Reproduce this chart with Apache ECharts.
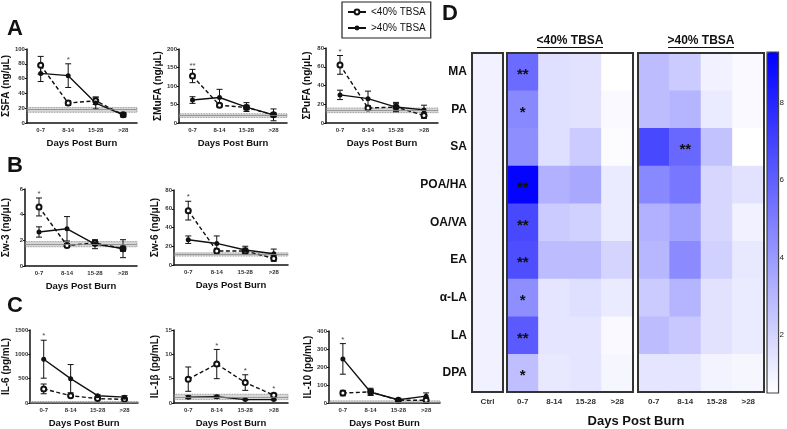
<!DOCTYPE html>
<html>
<head>
<meta charset="utf-8">
<script src="https://cdn.jsdelivr.net/npm/echarts@6/dist/echarts.min.js"></script>
<style>
  html, body { margin: 0; padding: 0; background: #fff; }
  #chart { width: 787px; height: 429px; }
</style>
</head>
<body>
<div id="chart"></div>
<script>
const days = ['0-7', '8-14', '15-28', '>28']

// A: fatty acid totals (ng/uL), mean and error per time bin
const sfaLow = [78, 27, 30, 11]
const sfaLowErr = [12, 3, 5, 2]
const sfaHigh = [67, 64, 27, 11]
const sfaHighErr = [11, 16, 8, 3]
const sfaCtrl = [14.5, 18, 21]
const sfaSig = ['', '*', '', '']

const mufaLow = [127, 48, 42, 22]
const mufaLowErr = [18, 5, 6, 5]
const mufaHigh = [62, 69, 43, 22]
const mufaHighErr = [9, 22, 12, 16]
const mufaCtrl = [15, 20, 25]
const mufaSig = ['**', '', '', '']

const pufaLow = [62, 16, 17, 8]
const pufaLowErr = [10, 2, 4, 3]
const pufaHigh = [30, 26, 17, 14]
const pufaHighErr = [5, 8, 5, 5]
const pufaCtrl = [11, 13.5, 16]
const pufaSig = ['*', '', '', '']

// B: omega-3 / omega-6
const w3Low = [4.6, 1.6, 1.8, 1.35]
const w3LowErr = [0.7, 0.15, 0.2, 0.2]
const w3High = [2.65, 2.9, 1.7, 1.35]
const w3HighErr = [0.4, 0.95, 0.35, 0.7]
const w3Ctrl = [1.5, 1.7, 1.9]
const w3Sig = ['*', '', '', '']

const w6Low = [58, 15, 15, 7]
const w6LowErr = [10, 2, 3, 3]
const w6High = [27, 23, 16, 12]
const w6HighErr = [4, 8, 4, 5]
const w6Ctrl = [9.5, 11.5, 13]
const w6Sig = ['*', '', '', '']

// C: cytokines (pg/mL)
const il6Low = [290, 150, 90, 75]
const il6LowErr = [100, 25, 15, 20]
const il6High = [900, 500, 150, 120]
const il6HighErr = [390, 290, 20, 30]
const il6Ctrl = [0, 15, 30]
const il6Sig = ['*', '', '', '']

const il1bLow = [4.9, 8, 4.2, 1.6]
const il1bLowErr = [2.5, 3, 1.6, 0.4]
const il1bHigh = [1.2, 1.3, 0.7, 0.7]
const il1bHighErr = [0.3, 0.3, 0.1, 0.1]
const il1bCtrl = [0.7, 1.2, 1.8]
const il1bSig = ['', '*', '*', '*']

const il10Low = [55, 62, 15, 15]
const il10LowErr = [15, 20, 3, 15]
const il10High = [245, 60, 18, 38]
const il10HighErr = [85, 15, 3, 18]
const il10Ctrl = [0, 6, 12]
const il10Sig = ['*', '', '', '']

// D: fold change heatmap
const acids = ['MA', 'PA', 'SA', 'POA/HA', 'OA/VA', 'EA', 'α-LA', 'LA', 'DPA']
const ctrlFold = [1, 1, 1, 1, 1, 1, 1, 1, 1]
const lt40Day0 = [5.6, 4.6, 4.4, 9.2, 6.8, 6.6, 4.4, 6.2, 2.7]
const lt40Day8 = [1.6, 1.6, 1.6, 3.2, 2.3, 2.8, 1.4, 1.4, 1.3]
const lt40Day15 = [1.5, 1.5, 2.3, 3.5, 2.1, 2.8, 1.6, 1.4, 1.4]
const lt40Day28 = [0.5, 0.7, 0.6, 1.2, 1.2, 2.0, 1.2, 0.7, 0.8]
const gt40Day0 = [2.8, 2.8, 6.8, 4.6, 3.2, 3.0, 2.3, 2.8, 1.4]
const gt40Day8 = [2.3, 3.1, 5.7, 5.2, 3.7, 4.5, 3.1, 2.4, 1.4]
const gt40Day15 = [1.0, 1.2, 2.6, 1.9, 1.9, 2.1, 1.5, 1.5, 0.9]
const gt40Day28 = [0.7, 0.7, 0.5, 1.5, 1.0, 1.3, 1.2, 1.2, 0.8]
const lt40Day0Sig = ['**', '*', '', '**', '**', '**', '*', '**', '*']
const gt40Day8Sig = ['', '', '**', '', '', '', '', '', '']
const colorTicks = [2, 4, 6, 8]

const ff = '"Liberation Sans", Arial, sans-serif'
const ink = '#111'

const panels = [
  { name: 'ΣSFA (ng/μL)', low: sfaLow, lowErr: sfaLowErr, high: sfaHigh, highErr: sfaHighErr, ctrl: sfaCtrl, sig: sfaSig, max: 100, step: 20, rect: [25, 49, 112, 74] },
  { name: 'ΣMuFA (ng/μL)', low: mufaLow, lowErr: mufaLowErr, high: mufaHigh, highErr: mufaHighErr, ctrl: mufaCtrl, sig: mufaSig, max: 200, step: 50, rect: [179, 49, 108, 74] },
  { name: 'ΣPuFA (ng/μL)', low: pufaLow, lowErr: pufaLowErr, high: pufaHigh, highErr: pufaHighErr, ctrl: pufaCtrl, sig: pufaSig, max: 80, step: 20, rect: [326, 48, 112, 75] },
  { name: 'Σw-3 (ng/μL)', low: w3Low, lowErr: w3LowErr, high: w3High, highErr: w3HighErr, ctrl: w3Ctrl, sig: w3Sig, max: 6, step: 2, rect: [23, 189, 114, 77] },
  { name: 'Σw-6 (ng/μL)', low: w6Low, lowErr: w6LowErr, high: w6High, highErr: w6HighErr, ctrl: w6Ctrl, sig: w6Sig, max: 80, step: 20, rect: [174, 190, 114, 75] },
  { name: 'IL-6 (pg/mL)', low: il6Low, lowErr: il6LowErr, high: il6High, highErr: il6HighErr, ctrl: il6Ctrl, sig: il6Sig, max: 1500, step: 500, rect: [29, 330, 109, 74] },
  { name: 'IL-1β (pg/mL)', low: il1bLow, lowErr: il1bLowErr, high: il1bHigh, highErr: il1bHighErr, ctrl: il1bCtrl, sig: il1bSig, max: 15, step: 5, rect: [174, 330, 114, 75] },
  { name: 'IL-10 (pg/mL)', low: il10Low, lowErr: il10LowErr, high: il10High, highErr: il10HighErr, ctrl: il10Ctrl, sig: il10Sig, max: 400, step: 100, rect: [329, 331, 111, 73] },
]

function errorBars(vals, errs, i) {
  return {
    type: 'custom',
    name: 'err' + i,
    xAxisIndex: i,
    yAxisIndex: i,
    z: 3,
    silent: true,
    encode: { x: 0, y: [1, 2] },
    data: vals.map((v, k) => [k, v - errs[k], v + errs[k]]),
    renderItem: (params, api) => {
      const lo = api.coord([api.value(0), api.value(1)])
      const hi = api.coord([api.value(0), api.value(2)])
      const style = { stroke: ink, lineWidth: 1 }
      return {
        type: 'group',
        children: [
          { type: 'line', shape: { x1: lo[0], y1: lo[1], x2: hi[0], y2: hi[1] }, style },
          { type: 'line', shape: { x1: lo[0] - 3, y1: lo[1], x2: lo[0] + 3, y2: lo[1] }, style },
          { type: 'line', shape: { x1: hi[0] - 3, y1: hi[1], x2: hi[0] + 3, y2: hi[1] }, style },
        ],
      }
    },
  }
}

const grid = []
const xAxis = []
const yAxis = []
const series = []

panels.forEach((p, i) => {
  grid.push({ left: p.rect[0], top: p.rect[1], width: p.rect[2], height: p.rect[3] })
  xAxis.push({
    gridIndex: i,
    type: 'category',
    data: days,
    name: 'Days Post Burn',
    nameLocation: 'middle',
    nameGap: 15,
    nameTextStyle: { fontFamily: ff, fontSize: 9.5, fontWeight: 'bold', color: ink },
    axisLine: { lineStyle: { color: ink, width: 1.5 } },
    axisTick: { alignWithLabel: true, length: 2, lineStyle: { color: ink } },
    axisLabel: { fontFamily: ff, fontSize: 6, fontWeight: 'bold', color: '#333', margin: 4 },
  })
  yAxis.push({
    gridIndex: i,
    type: 'value',
    min: 0,
    max: p.max,
    interval: p.step,
    name: p.name,
    nameLocation: 'middle',
    nameGap: 14,
    nameTextStyle: { fontFamily: ff, fontSize: 10, fontWeight: 'bold', color: ink },
    axisLine: { show: true, lineStyle: { color: ink, width: 1.5 } },
    axisTick: { show: true, length: 2, lineStyle: { color: ink } },
    axisLabel: { fontFamily: ff, fontSize: 6, fontWeight: 'bold', color: '#333', margin: 2, formatter: (v) => String(v) },
    splitLine: { show: false },
  })
  series.push({
    type: 'line',
    name: '<40% TBSA',
    xAxisIndex: i,
    yAxisIndex: i,
    data: p.low,
    symbol: 'emptyCircle',
    symbolSize: 5,
    z: 4,
    lineStyle: { color: ink, width: 1.4, type: [4, 2.5] },
    itemStyle: { color: ink, borderWidth: 1.2 },
    markArea: {
      silent: true,
      itemStyle: { color: 'rgba(140,140,140,0.35)', borderColor: '#777', borderWidth: 0.8, borderType: 'dotted' },
      data: [[{ yAxis: p.ctrl[0] }, { yAxis: p.ctrl[2] }]],
    },
    markLine: {
      silent: true,
      symbol: 'none',
      label: { show: false },
      lineStyle: { color: '#888', width: 0.8, type: 'solid' },
      data: [{ yAxis: p.ctrl[1] }],
    },
  })
  series.push({
    type: 'line',
    name: '>40% TBSA',
    xAxisIndex: i,
    yAxisIndex: i,
    data: p.high,
    symbol: 'circle',
    symbolSize: 5,
    z: 4,
    lineStyle: { color: ink, width: 1.4 },
    itemStyle: { color: ink },
  })
  series.push(errorBars(p.low, p.lowErr, i))
  series.push(errorBars(p.high, p.highErr, i))
  series.push({
    type: 'scatter',
    name: 'sig' + i,
    xAxisIndex: i,
    yAxisIndex: i,
    symbolSize: 0,
    silent: true,
    data: p.sig
      .map((s, k) => [k, Math.max(p.low[k] + p.lowErr[k], p.high[k] + p.highErr[k]), s])
      .filter((d) => d[2]),
    label: {
      show: true,
      position: 'top',
      distance: 0,
      formatter: (d) => d.data[2],
      fontFamily: ff,
      fontSize: 8,
      color: ink,
    },
  })
})

// heatmap blocks
const heatBlocks = [
  { cols: ['Ctrl'], values: [ctrlFold], rect: [472, 53, 31, 339], labels: true },
  { cols: days, values: [lt40Day0, lt40Day8, lt40Day15, lt40Day28], sig: [lt40Day0Sig], rect: [507, 53, 126, 339] },
  { cols: days, values: [gt40Day0, gt40Day8, gt40Day15, gt40Day28], sig: [null, gt40Day8Sig], rect: [638, 53, 126, 339] },
]
const heatSeries = []
heatBlocks.forEach((b, j) => {
  const gi = grid.length
  grid.push({
    left: b.rect[0], top: b.rect[1], width: b.rect[2], height: b.rect[3],
    show: true, z: 10, borderColor: '#333', borderWidth: 2, backgroundColor: 'transparent',
  })
  xAxis.push({
    gridIndex: gi,
    type: 'category',
    data: b.cols,
    axisLine: { show: false },
    axisTick: { show: false },
    axisLabel: { fontFamily: ff, fontSize: 8, fontWeight: 'bold', color: '#333', margin: 6 },
    splitLine: { show: false },
  })
  yAxis.push({
    gridIndex: gi,
    type: 'category',
    data: acids,
    inverse: true,
    axisLine: { show: false },
    axisTick: { show: false },
    axisLabel: { show: !!b.labels, fontFamily: ff, fontSize: 12, fontWeight: 'bold', color: ink, margin: 5 },
    splitLine: { show: false },
  })
  const data = []
  b.values.forEach((col, c) => col.forEach((v, r) => data.push([c, r, v])))
  heatSeries.push(series.length)
  series.push({
    type: 'heatmap',
    name: 'heat' + j,
    xAxisIndex: gi,
    yAxisIndex: gi,
    data,
    silent: true,
    label: {
      show: true,
      formatter: (d) => {
        const col = b.sig && b.sig[d.data[0]]
        return col ? col[d.data[1]] : ''
      },
      fontFamily: ff,
      fontSize: 15,
      fontWeight: 'bold',
      color: '#111',
      offset: [0, 3],
    },
  })
})

// colour bar axis
const cb = grid.length
grid.push({ left: 767, top: 52, width: 12, height: 341, show: true, z: 10, borderColor: '#444', borderWidth: 1.2, backgroundColor: 'transparent' })
xAxis.push({ gridIndex: cb, type: 'value', show: false, min: 0, max: 1 })
yAxis.push({
  gridIndex: cb,
  type: 'value',
  position: 'right',
  min: 0.5,
  max: 9.3,
  axisLine: { show: false },
  axisTick: { show: true, length: 2, customValues: colorTicks, lineStyle: { color: '#333' } },
  axisLabel: { fontFamily: ff, fontSize: 8, color: '#222', margin: 1, customValues: colorTicks },
  splitLine: { show: false },
})

const letter = (t, x, y) => ({
  type: 'text', x, y,
  style: { text: t, fontFamily: ff, fontSize: 22, fontWeight: 'bold', fill: ink, align: 'center', verticalAlign: 'middle' },
})
const groupTitle = (t, cx) => ({
  type: 'group',
  children: [
    { type: 'text', x: cx, y: 41, style: { text: t, fontFamily: ff, fontSize: 12, fontWeight: 'bold', fill: ink, align: 'center', verticalAlign: 'middle' } },
    { type: 'line', shape: { x1: cx - 33, y1: 47.5, x2: cx + 33, y2: 47.5 }, style: { stroke: ink, lineWidth: 1 } },
  ],
})

const chart = echarts.init(document.getElementById('chart'))
chart.setOption({
  animation: false,
  backgroundColor: '#fff',
  legend: {
    data: ['<40% TBSA', '>40% TBSA'],
    orient: 'vertical',
    left: 342,
    top: 2,
    padding: [5, 5, 5, 5],
    itemGap: 6,
    itemWidth: 18,
    itemHeight: 6,
    borderColor: '#222',
    borderWidth: 1.2,
    lineStyle: { type: 'solid' },
    textStyle: { fontFamily: ff, fontSize: 10, color: ink },
    selectedMode: false,
  },
  visualMap: {
    type: 'continuous',
    min: 0.5,
    max: 9.3,
    seriesIndex: heatSeries,
    dimension: 2,
    left: 767,
    top: 52,
    itemWidth: 12,
    itemHeight: 341,
    padding: 0,
    calculable: false,
    hoverLink: false,
    inRange: { color: ['#ffffff', '#0000ff'] },
  },
  graphic: [
    letter('A', 15, 29),
    letter('B', 15, 166),
    letter('C', 15, 306),
    letter('D', 450, 14),
    groupTitle('<40% TBSA', 570),
    groupTitle('>40% TBSA', 701),
    {
      type: 'text', x: 636, y: 421,
      style: { text: 'Days Post Burn', fontFamily: ff, fontSize: 13, fontWeight: 'bold', fill: ink, align: 'center', verticalAlign: 'middle' },
    },
  ],
  grid,
  xAxis,
  yAxis,
  series,
})
</script>
</body>
</html>
